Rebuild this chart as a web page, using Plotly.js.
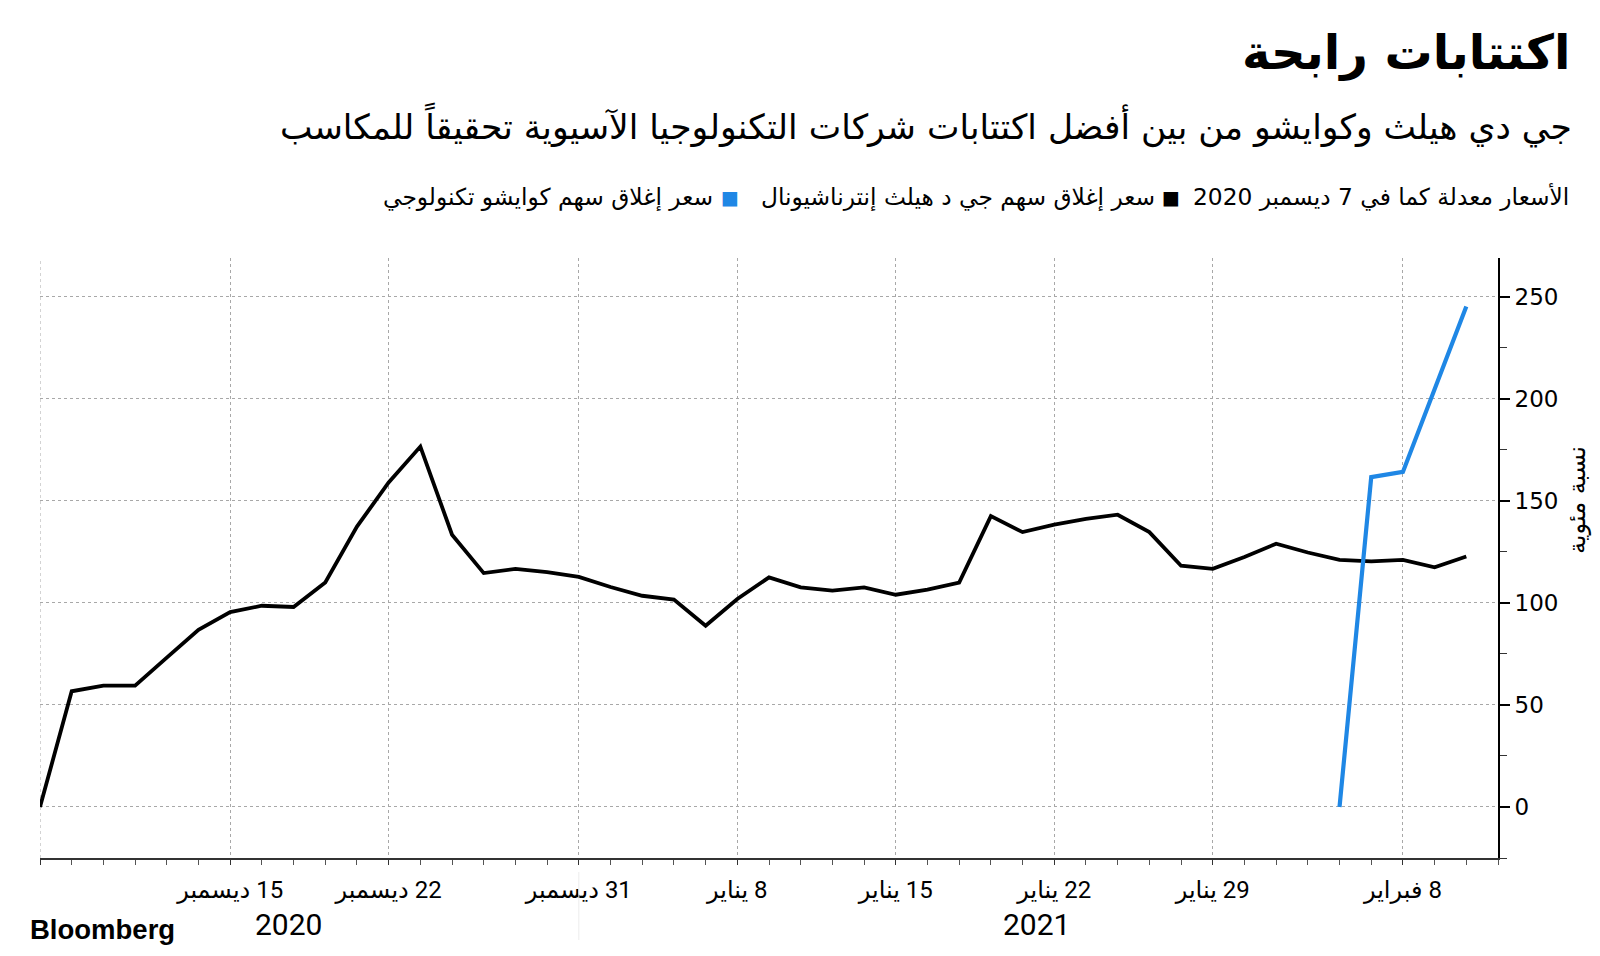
<!DOCTYPE html>
<html>
<head>
<meta charset="utf-8">
<script src="https://cdn.plot.ly/plotly-3.0.1.min.js"></script>
<style>html,body{margin:0;padding:0;background:#fff;}#chart{width:1600px;height:956px;}</style>
</head>
<body>
<div id="chart"></div>
<script>
// Trading days (x categories)
const dates = [
  '2020-12-07','2020-12-08','2020-12-09','2020-12-10','2020-12-11','2020-12-14','2020-12-15','2020-12-16','2020-12-17','2020-12-18',
  '2020-12-21','2020-12-22','2020-12-23','2020-12-24','2020-12-28','2020-12-29','2020-12-30','2020-12-31','2021-01-04','2021-01-05',
  '2021-01-06','2021-01-07','2021-01-08','2021-01-11','2021-01-12','2021-01-13','2021-01-14','2021-01-15','2021-01-18','2021-01-19',
  '2021-01-20','2021-01-21','2021-01-22','2021-01-25','2021-01-26','2021-01-27','2021-01-28','2021-01-29','2021-02-01','2021-02-02',
  '2021-02-03','2021-02-04','2021-02-05','2021-02-08','2021-02-09','2021-02-10'
];
// JD Health closing price, % change vs IPO price
const jdHealth = [
  0, 56.7, 59.5, 59.5, 73.2, 86.8, 95.5, 98.6, 98.0, 110.0,
  137.4, 159.0, 176.6, 133.4, 114.6, 116.7, 115.1, 112.7, 107.8, 103.5,
  101.6, 88.8, 101.9, 112.5, 107.6, 106.0, 107.6, 104.0, 106.5, 110.0,
  142.5, 134.7, 138.3, 141.2, 143.2, 134.7, 118.2, 116.7, 122.5, 129.0,
  124.7, 121.1, 120.3, 121.1, 117.4, 122.7
];
// Kuaishou closing price, % change vs IPO price
const kuaishou = [
  null, null, null, null, null, null, null, null, null, null,
  null, null, null, null, null, null, null, null, null, null,
  null, null, null, null, null, null, null, null, null, null,
  null, null, null, null, null, null, null, null, null, null,
  null, 0, 161.6, 164.2, 204.0, 245.2
];
const tickDates = ['2020-12-07','2020-12-15','2020-12-22','2020-12-31','2021-01-08','2021-01-15','2021-01-22','2021-01-29','2021-02-08'];
const tickLabels = ['', '15 ديسمبر', '22 ديسمبر', '31 ديسمبر', '8 يناير', '15 يناير', '22 يناير', '29 يناير', '8 فبراير'];
const yTicks = [0, 50, 100, 150, 200, 250];
const yearLabels = ['2020', '2021'];

const titleText = 'اكتتابات رابحة';
const subtitleText = 'جي دي هيلث وكوايشو من بين أفضل اكتتابات شركات التكنولوجيا الآسيوية تحقيقاً للمكاسب';
const noteText = 'الأسعار معدلة كما في 7 ديسمبر 2020';
const seriesNames = ['سعر إغلاق سهم جي د هيلث إنترناشيونال', 'سعر إغلاق سهم كوايشو تكنولوجي'];
const yTitle = 'نسبة مئوية';

const RLM = '\u200F';
const xIdx = dates.map((d, i) => i);
const tickIdx = tickDates.map(d => dates.indexOf(d));
const XMAX = dates.length;

const ML = 40, MR = 102, MT = 258, MB = 98, W = 1600, H = 956;
const PW = W - ML - MR, PH = H - MT - MB;
const px = x => (x - ML) / PW;
const py = y => (H - MB - y) / PH;

const arFont = 'DejaVu Sans, Noto Sans, sans-serif';
const BLUE = '#1f87e5';

const traces = [
  {x: xIdx, y: jdHealth, type: 'scatter', mode: 'lines', name: seriesNames[0],
   line: {color: '#000', width: 3.8}, hoverinfo: 'skip'},
  {x: xIdx, y: kuaishou, type: 'scatter', mode: 'lines', name: seriesNames[1],
   line: {color: BLUE, width: 4.2}, hoverinfo: 'skip', connectgaps: false},
  {x: yTicks.map(() => XMAX + 0.14), y: yTicks, type: 'scatter', mode: 'markers',
   marker: {symbol: 'triangle-right', size: 10, color: '#000'}, cliponaxis: false,
   hoverinfo: 'skip', showlegend: false}
];

const annotations = [
  {text: '<b>' + titleText + '</b>', x: px(1572), y: py(52), xref: 'paper', yref: 'paper',
   xanchor: 'right', yanchor: 'middle', showarrow: false, font: {family: arFont, size: 48, color: '#000'}},
  {text: subtitleText, x: px(1574), y: py(125), xref: 'paper', yref: 'paper',
   xanchor: 'right', yanchor: 'middle', showarrow: false, font: {family: arFont, size: 34.5, color: '#000'}},
  {text: RLM + noteText, x: px(1571), y: py(197), xref: 'paper', yref: 'paper',
   xanchor: 'right', yanchor: 'middle', showarrow: false, font: {family: arFont, size: 23.3, color: '#000'}},
  {text: '■', x: px(1182), y: py(197), xref: 'paper', yref: 'paper',
   xanchor: 'right', yanchor: 'middle', showarrow: false, font: {family: 'DejaVu Sans', size: 19, color: '#000'}},
  {text: seriesNames[0], x: px(1157), y: py(197), xref: 'paper', yref: 'paper',
   xanchor: 'right', yanchor: 'middle', showarrow: false, font: {family: arFont, size: 23.3, color: '#000'}},
  {text: '■', x: px(741), y: py(197), xref: 'paper', yref: 'paper',
   xanchor: 'right', yanchor: 'middle', showarrow: false, font: {family: 'DejaVu Sans', size: 19, color: BLUE}},
  {text: seriesNames[1], x: px(715), y: py(197), xref: 'paper', yref: 'paper',
   xanchor: 'right', yanchor: 'middle', showarrow: false, font: {family: arFont, size: 23.3, color: '#000'}},
  {text: yTitle, x: px(1577), y: py(500), xref: 'paper', yref: 'paper', textangle: -90,
   xanchor: 'center', yanchor: 'middle', showarrow: false, font: {family: arFont, size: 24, color: '#000'}},
  {text: yearLabels[0], x: px(288), y: py(924), xref: 'paper', yref: 'paper',
   xanchor: 'center', yanchor: 'middle', showarrow: false, font: {family: 'Roboto, sans-serif', size: 30, color: '#000'}},
  {text: yearLabels[1], x: px(1036), y: py(924), xref: 'paper', yref: 'paper',
   xanchor: 'center', yanchor: 'middle', showarrow: false, font: {family: 'Roboto, sans-serif', size: 30, color: '#000'}},
  {text: '<b>Bloomberg</b>', x: px(28), y: py(929), xref: 'paper', yref: 'paper',
   xanchor: 'left', yanchor: 'middle', showarrow: false, font: {family: 'Liberation Sans, Arial, sans-serif', size: 27.5, color: '#000'}}
];

const shapes = [
  {type: 'line', xref: 'x', yref: 'paper', x0: 0, x1: 0, y0: 0, y1: 1,
   line: {color: '#a8a8a8', width: 1, dash: 'dot'}, layer: 'below'},
  {type: 'line', xref: 'x', yref: 'paper', x0: dates.indexOf('2020-12-31'), x1: dates.indexOf('2020-12-31'),
   y0: py(872), y1: py(940), line: {color: '#ececec', width: 1}}
];

const layout = {
  width: W, height: H,
  margin: {l: ML, r: MR, t: MT, b: MB, pad: 0},
  paper_bgcolor: '#fff', plot_bgcolor: '#fff',
  showlegend: false,
  xaxis: {
    range: [0, XMAX], tickmode: 'array', tickvals: tickIdx,
    ticktext: tickLabels.map(t => t ? RLM + t : t),
    ticks: 'outside', ticklen: 5, tickwidth: 1, tickcolor: '#333',
    showgrid: true, gridcolor: '#a8a8a8', griddash: 'dot', gridwidth: 1,
    showline: true, linecolor: '#333', linewidth: 1.5, zeroline: false,
    minor: {tickmode: 'linear', tick0: 0, dtick: 1, ticks: 'outside', ticklen: 5, tickwidth: 1, tickcolor: '#555', showgrid: false},
    tickfont: {family: 'Roboto, DejaVu Sans, sans-serif', size: 24, color: '#000'},
    ticklabelstandoff: 5,
    fixedrange: true
  },
  yaxis: {
    side: 'right', range: [-25, 269], tickmode: 'array', tickvals: yTicks,
    ticks: 'outside', ticklen: 10, tickwidth: 2, tickcolor: '#000',
    showgrid: true, gridcolor: '#a8a8a8', griddash: 'dot', gridwidth: 1,
    showline: true, linecolor: '#000', linewidth: 2, zeroline: false,
    minor: {tickmode: 'linear', tick0: 25, dtick: 50, ticks: 'outside', ticklen: 7, tickwidth: 1, tickcolor: '#333', showgrid: false},
    tickfont: {family: 'DejaVu Sans, sans-serif', size: 23, color: '#000'},
    fixedrange: true
  },
  annotations: annotations,
  shapes: shapes
};

Plotly.newPlot('chart', traces, layout, {staticPlot: true, displayModeBar: false});
</script>
</body>
</html>
